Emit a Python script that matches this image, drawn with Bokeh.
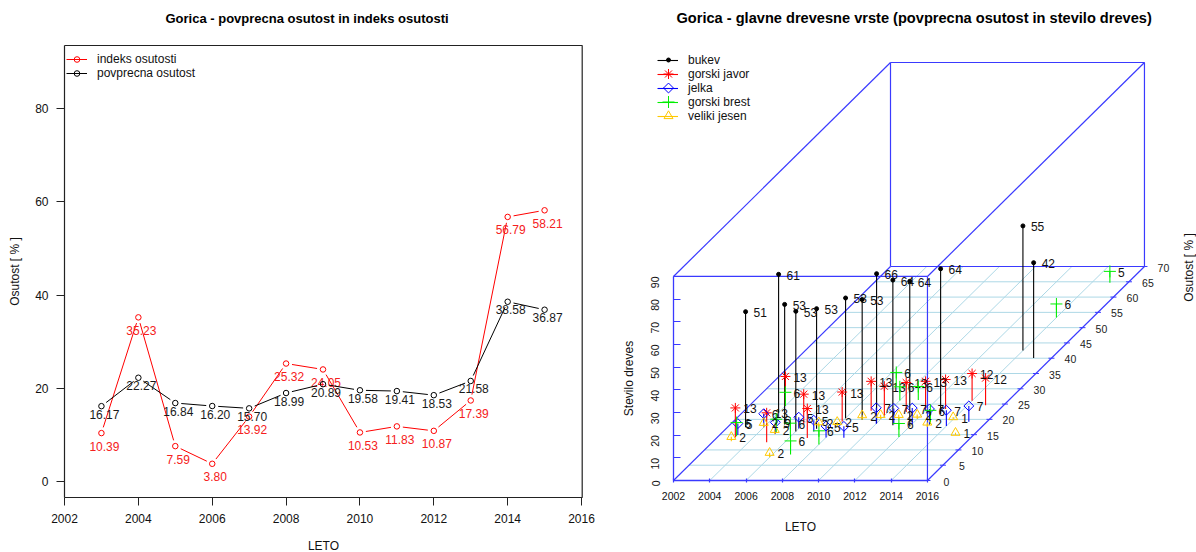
from bokeh.embed import file_html
from bokeh.resources import INLINE
from bokeh.plotting import figure
from bokeh.layouts import row
from bokeh.core.properties import value
from bokeh.models import Legend, LegendItem, Label
import numpy as np

FONT = "Liberation Sans"

# ---- left chart data
years = [2003, 2004, 2005, 2006, 2007, 2008, 2009, 2010, 2011, 2012, 2013, 2014, 2015]
indeks = [10.39, 35.23, 7.59, 3.80, 13.92, 25.32, 24.05, 10.53, 11.83, 10.87, 17.39, 56.79, 58.21]
povprecna = [16.17, 22.27, 16.84, 16.20, 15.70, 18.99, 20.89, 19.58, 19.41, 18.53, 21.58, 38.58, 36.87]

# ---- right chart data: (osutost per year, number of trees per year)
bukev_o = [17.4, 22.2, 18.3, 16.05, 16.9, 20.4, 19.9, 18.7, 18.1, 17.7, 21.8, 42.5, 40.1]
bukev_n = [51, 61, 53, 53, 53, 53, 53, 66, 64, 64, 64, 55, 42]
javor_o = [14.1, 24.4, 12.5, 18.6, 13.9, 19.3, 22.8, 21.2, 22.4, 22.8, 23.4, 26.1, 24.6]
javor_n = [13, 13, 13, 13, 13, 13, 13, 13, 13, 13, 13, 12, 12]
jelka_o = [14.9, 17.4, 15.3, 17.0, 16.0, 14.1, 14.0, 18.6, 18.4, 18.5, 18.2, 17.8, 19.2]
jelka_n = [5, 6, 5, 5, 5, 5, 5, 7, 7, 7, 7, 7, 7]
brest_o = [14.5, 24.4, 15.6, 14.3, 8.5, 11.8, 30.9, 26.2, 26.3, 14.2, 18.5, 53.3, 64.7]
brest_n = [6, 6, 6, 6, 6, 6, 6, 6, 6, 6, 6, 6, 5]
jesen_o = [12.8, 17.4, 15.1, 7.6, 17.6, 17.7, 19.9, 20.0, 20.0, 20.1, 17.5, 20.0, 14.9]
jesen_n = [2, 2, 2, 2, 2, 2, 2, 2, 2, 2, 2, 1, 1]

x_ticks = [2002, 2004, 2006, 2008, 2010, 2012, 2014, 2016]
left_y_ticks = [0, 20, 40, 60, 80]
z_ticks = [0, 10, 20, 30, 40, 50, 60, 70, 80, 90]
depth_ticks = [0, 5, 10, 15, 20, 25, 30, 35, 40, 45, 50, 55, 60, 65, 70]

TITLE1 = "Gorica - povprecna osutost in indeks osutosti"
TITLE2 = "Gorica - glavne drevesne vrste (povprecna osutost in stevilo dreves)"

LEFT_W, RIGHT_W, H = 600, 596, 552
FRAME_TOP = 30
TICK_FONT = "12px"


def style_axis(ax, color, size):
    ax.axis_line_color = color
    ax.major_tick_line_color = color
    ax.minor_tick_line_color = None
    ax.major_label_text_font = FONT
    ax.major_label_text_font_size = size
    ax.major_label_text_color = "#111111"
    ax.axis_label_text_font = FONT
    ax.axis_label_text_font_size = "12px"
    ax.axis_label_text_font_style = "normal"
    ax.axis_label_text_color = "#111111"


def style_title(p, offset, size, standoff):
    p.title.text_font = FONT
    p.title.text_font_size = size
    p.title.text_font_style = "bold"
    p.title.text_color = "black"
    p.title.align = "left"
    p.title.offset = offset
    p.title.standoff = standoff


def make_legend(p, items, x, y):
    lg = Legend(items=items, location=(x, y), padding=0, margin=0, spacing=0,
                glyph_width=21, glyph_height=14, label_height=14, label_standoff=10,
                label_text_font=FONT, label_text_font_size="12px", label_text_color="#111111",
                background_fill_alpha=0, border_line_color=None)
    p.add_layout(lg)


# ---------------------------------------------------------------- left chart
FRAME1_R, FRAME1_B = 600, 552
BOX1_L, BOX1_R, BOX1_T, BOX1_B = 64, 581.7, 45, 497
PX_YEAR1 = 36.93
PX_UNIT1 = 4.659
Y0_PX = 481
y1_bottom = -(BOX1_B - Y0_PX) / PX_UNIT1
y1_boxtop = (Y0_PX - BOX1_T) / PX_UNIT1
x1_boxright = 2002 + (BOX1_R - BOX1_L) / PX_YEAR1
p1 = figure(width=LEFT_W, height=H, output_backend="svg", toolbar_location=None, frame_align=False,
            x_range=(2002 - BOX1_L / PX_YEAR1, 2002 + (FRAME1_R - BOX1_L) / PX_YEAR1),
            y_range=(-(FRAME1_B - Y0_PX) / PX_UNIT1, (Y0_PX - FRAME_TOP) / PX_UNIT1),
            min_border_left=0, min_border_right=0,
            min_border_top=FRAME_TOP, min_border_bottom=0, title=TITLE1)
style_title(p1, 165, "13px", 9)
p1.grid.visible = False
p1.outline_line_color = None
p1.xaxis.ticker = x_ticks
p1.yaxis.ticker = left_y_ticks
p1.xaxis.fixed_location = y1_bottom
p1.yaxis.fixed_location = 2002
p1.xaxis.bounds = (2002, x1_boxright)
p1.yaxis.bounds = (y1_bottom, y1_boxtop)
for ax in (p1.xaxis[0], p1.yaxis[0]):
    style_axis(ax, "#222222", TICK_FONT)
    ax.axis_line_width = 1.2
    ax.major_tick_in = 0
    ax.major_tick_out = 8
p1.xaxis.major_label_standoff = 8
p1.xaxis.axis_label = "LETO"
p1.xaxis.axis_label_standoff = 13
p1.yaxis.major_label_orientation = "horizontal"
p1.yaxis.major_label_standoff = 8
p1.yaxis.axis_label = "Osutost [ % ]"
p1.yaxis.axis_label_standoff = 10
p1.line([2002, x1_boxright, x1_boxright], [y1_boxtop, y1_boxtop, y1_bottom], line_color="#222222", line_width=1.2)


def broken_line(xs, ys, gap=6.0):
    """R's type='b': segments stop short of the points."""
    x0, y0, x1, y1 = [], [], [], []
    for a, b, c, d in zip(xs[:-1], ys[:-1], xs[1:], ys[1:]):
        dx, dy = (c - a) * PX_YEAR1, (d - b) * PX_UNIT1
        L = float(np.hypot(dx, dy))
        if L <= 2 * gap:
            continue
        f = gap / L
        x0.append(a + (c - a) * f); y0.append(b + (d - b) * f)
        x1.append(c - (c - a) * f); y1.append(d - (d - b) * f)
    return x0, y0, x1, y1


items1 = []
for name, vals, col, txt_col, dy in [("indeks osutosti", indeks, "#ff0000", "#f52020", 13),
                                     ("povprecna osutost", povprecna, "#000000", "#1a1a1a", 8)]:
    x0, y0, x1, y1 = broken_line(years, vals)
    seg = p1.segment(x0, y0, x1, y1, line_color=col, line_width=1)
    pts = p1.scatter(years, vals, marker="circle", size=5.5, fill_color=None, line_color=col, line_width=1)
    p1.text(years, vals, text=["%.2f" % v for v in vals], text_align="center", text_baseline="middle",
            x_offset=3, y_offset=dy, text_font=value(FONT), text_font_size="12px", text_color=txt_col)
    items1.append(LegendItem(label=name, renderers=[seg, pts]))
make_legend(p1, items1, 66, FRAME1_B - 80)

# ---------------------------------------------------------------- right chart
FRAME2_L, FRAME2_B = 620, 540
ORIGIN_X, ORIGIN_Y = 673, 480
PX_YEAR2 = 18.14
PX_UNIT2 = 2.267
DX_PER_O = 3.1 / PX_YEAR2      # years of screen shift per unit of osutost
DZ_PER_O = 3.057 / PX_UNIT2    # trees of screen shift per unit of osutost


def proj(year, o, n):
    y, o, n = np.asarray(year, float), np.asarray(o, float), np.asarray(n, float)
    return y + o * DX_PER_O, n + o * DZ_PER_O


p2 = figure(width=RIGHT_W, height=H, output_backend="svg", toolbar_location=None, frame_align=False,
            x_range=(2002 - (ORIGIN_X - FRAME2_L) / PX_YEAR2, 2002 + (1196 - ORIGIN_X) / PX_YEAR2),
            y_range=(-(FRAME2_B - ORIGIN_Y) / PX_UNIT2, (ORIGIN_Y - FRAME_TOP) / PX_UNIT2),
            min_border_left=FRAME2_L - LEFT_W, min_border_right=0,
            min_border_top=FRAME_TOP, min_border_bottom=H - FRAME2_B, title=TITLE2)
style_title(p2, 56, "14.6px", 9)
p2.grid.visible = False
p2.outline_line_color = None
BLUE = "#3a3aff"
p2.xaxis.ticker = x_ticks
p2.yaxis.ticker = z_ticks
p2.xaxis.bounds = (2002, 2016)
p2.yaxis.bounds = (0, 90)
p2.yaxis.fixed_location = 2002
p2.xaxis.fixed_location = 0
style_axis(p2.xaxis[0], BLUE, "10.5px")
style_axis(p2.yaxis[0], BLUE, "10.5px")
for ax in (p2.xaxis[0], p2.yaxis[0]):
    ax.axis_line_width = 1.3
    ax.major_tick_line_width = 1.2
p2.xaxis.major_tick_in = 2
p2.xaxis.major_tick_out = 2
p2.yaxis.major_tick_in = 7
p2.yaxis.major_tick_out = 0
p2.xaxis.major_label_standoff = 9
p2.xaxis.axis_label = "LETO"
p2.xaxis.axis_label_standoff = 17
p2.yaxis.major_label_standoff = 18
p2.yaxis.major_label_orientation = np.pi / 2
p2.yaxis.axis_label = "Stevilo dreves"
p2.yaxis.axis_label_standoff = 9

# floor grid
MAX_O = depth_ticks[-1]
for o in depth_ticks[1:-1]:
    xs, zs = proj([2002, 2016], [o, o], [0, 0])
    p2.line(xs, zs, line_color="#add8e6", line_width=1)
for yr in x_ticks[1:-1]:
    xs, zs = proj([yr, yr], [0, MAX_O], [0, 0])
    p2.line(xs, zs, line_color="#add8e6", line_width=1)

# box
corner = {(a, b, c): proj(a, b, c) for a in (2002, 2016) for b in (0, MAX_O) for c in (0, 90)}
edges = [((2002, 0, 90), (2016, 0, 90)), ((2016, 0, 0), (2016, 0, 90)),
         ((2002, 0, 0), (2002, MAX_O, 0)), ((2016, 0, 0), (2016, MAX_O, 0)),
         ((2002, MAX_O, 0), (2016, MAX_O, 0)), ((2002, MAX_O, 0), (2002, MAX_O, 90)),
         ((2016, MAX_O, 0), (2016, MAX_O, 90)), ((2002, MAX_O, 90), (2016, MAX_O, 90)),
         ((2002, 0, 90), (2002, MAX_O, 90)), ((2016, 0, 90), (2016, MAX_O, 90))]
p2.segment([corner[a][0] for a, b in edges], [corner[a][1] for a, b in edges],
           [corner[b][0] for a, b in edges], [corner[b][1] for a, b in edges],
           line_color=BLUE, line_width=1.2)

# depth axis ticks and labels
dx, dz = proj([2016] * len(depth_ticks), depth_ticks, [0] * len(depth_ticks))
half = 3 / PX_YEAR2
p2.segment(dx - half, dz, dx + half, dz, line_color=BLUE, line_width=1)
p2.text(dx, dz, text=[str(t) for t in depth_ticks], x_offset=19, y_offset=1, text_align="center",
        text_baseline="middle", text_font=value(FONT), text_font_size="10.5px", text_color="#222222")

species = [("bukev", bukev_o, bukev_n, "#000000", "circle", 4, 0),
           ("gorski javor", javor_o, javor_n, "#ff0000", "asterisk", 10, 0),
           ("jelka", jelka_o, jelka_n, "#0000ff", "square", 7, np.pi / 4),
           ("gorski brest", brest_o, brest_n, "#00ee00", "cross", 12, 0),
           ("veliki jesen", jesen_o, jesen_n, "#ffc800", "triangle", 9, 0)]
items2 = []
LEG_X_PX, LEG_Y0_PX, LEG_STEP_PX = 668, 59.5, 14
for i, (name, oo, nn, col, mk, size, ang) in enumerate(species):
    bx, bz = proj(years, oo, [0] * len(oo))
    tx, tz = proj(years, oo, nn)
    st = p2.segment(bx, bz, tx, tz, line_color=col, line_width=1.1)
    fill = col if mk == "circle" else None
    p2.scatter(tx, tz, marker=mk, size=size, angle=ang, fill_color=fill, line_color=col, line_width=1)
    p2.text(tx, tz, text=[str(v) for v in nn], x_offset=8, y_offset=1, text_align="left",
            text_baseline="middle", text_font=value(FONT), text_font_size="12px", text_color="#111111")
    items2.append(LegendItem(label=name, renderers=[st]))
    # legend key: the same marker at its real size, on the legend's line
    p2.scatter([2002 + (LEG_X_PX - ORIGIN_X) / PX_YEAR2], [(ORIGIN_Y - LEG_Y0_PX - i * LEG_STEP_PX) / PX_UNIT2],
               marker=mk, size=size, angle=ang, fill_color=fill if fill else "white", line_color=col, line_width=1)
make_legend(p2, items2, 657 - FRAME2_L, FRAME2_B - 123)

p2.add_layout(Label(x=1188 - FRAME2_L, y=FRAME2_B - 267, x_units="screen", y_units="screen",
                    text="Osutost [ % ]", angle=np.pi / 2, text_align="center", text_baseline="middle",
                    text_font=FONT, text_font_size="12px", text_color="#111111"))

root = row(p1, p2, styles={"position": "absolute", "left": "0", "top": "0"})
open("out.html", "w").write(file_html(root, INLINE))
